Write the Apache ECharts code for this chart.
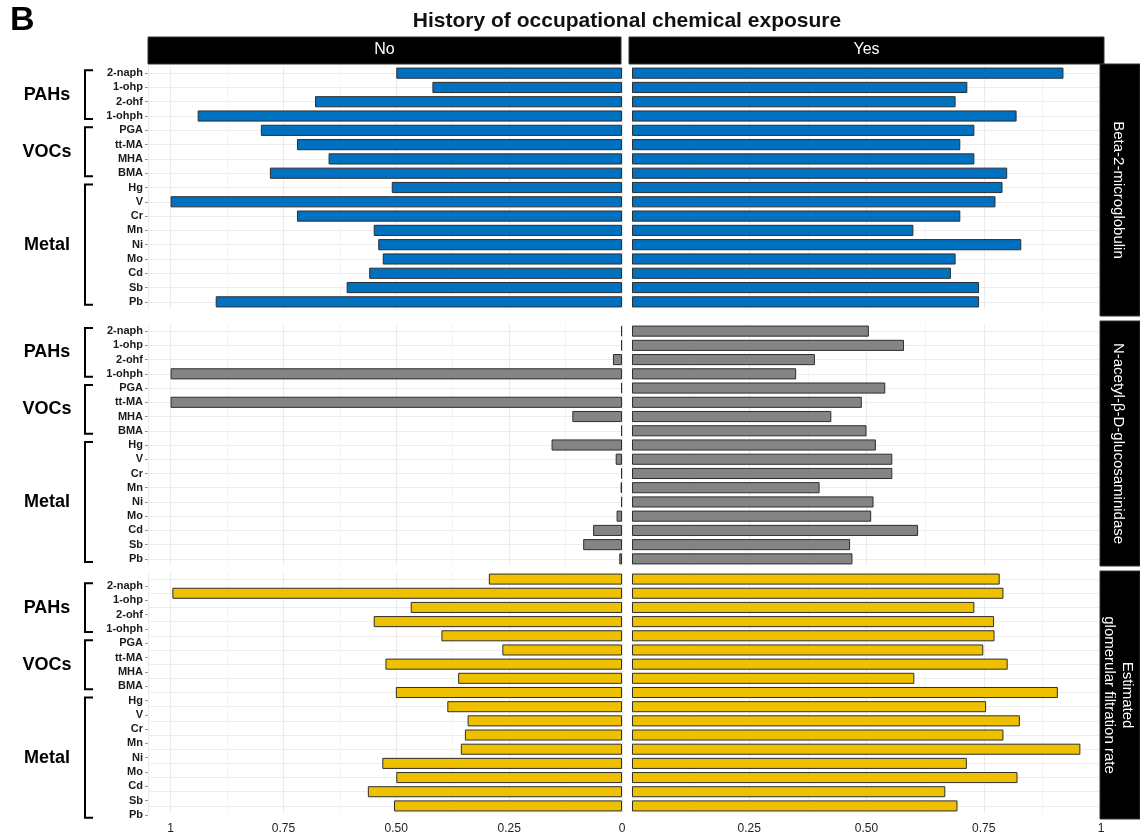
<!DOCTYPE html>
<html>
<head>
<meta charset="utf-8">
<script src="https://cdn.jsdelivr.net/npm/echarts@6/dist/echarts.min.js"></script>
<style>
  html, body { margin: 0; padding: 0; background: #fff; }
  #chart { width: 1140px; height: 839px; }
</style>
</head>
<body>
<div id="chart"></div>
<script>
    // categories (top to bottom) and how they group
    var compounds = ['2-naph', '1-ohp', '2-ohf', '1-ohph', 'PGA', 'tt-MA', 'MHA', 'BMA',
        'Hg', 'V', 'Cr', 'Mn', 'Ni', 'Mo', 'Cd', 'Sb', 'Pb'];
    var groupNames = ['PAHs', 'VOCs', 'Metal'];
    var groupSizes = [4, 4, 9];
    var exposure = ['No', 'Yes'];
    var outcomes = ['Beta-2-microglobulin', 'N-acetyl-β-D-glucosaminidase', 'Estimated\nglomerular filtration rate'];

    // Beta-2-microglobulin
    var b2mNo = [0.50, 0.42, 0.68, 0.94, 0.80, 0.72, 0.65, 0.78, 0.51, 1.00, 0.72, 0.55, 0.54, 0.53, 0.56, 0.61, 0.90];
    var b2mYes = [0.92, 0.715, 0.69, 0.82, 0.73, 0.70, 0.73, 0.80, 0.79, 0.775, 0.70, 0.60, 0.83, 0.69, 0.68, 0.74, 0.74];
    // N-acetyl-beta-D-glucosaminidase
    var nagNo = [0.002, 0.002, 0.02, 1.00, 0.002, 1.00, 0.11, 0.002, 0.156, 0.014, 0.002, 0.003, 0.002, 0.012, 0.064, 0.086, 0.006];
    var nagYes = [0.505, 0.58, 0.39, 0.35, 0.54, 0.49, 0.425, 0.50, 0.52, 0.555, 0.555, 0.40, 0.515, 0.51, 0.61, 0.465, 0.47];
    // eGFR
    var egfrNo = [0.295, 0.996, 0.468, 0.55, 0.40, 0.265, 0.524, 0.363, 0.501, 0.387, 0.342, 0.348, 0.357, 0.531, 0.50, 0.563, 0.505];
    var egfrYes = [0.784, 0.792, 0.73, 0.772, 0.773, 0.749, 0.801, 0.602, 0.908, 0.755, 0.827, 0.792, 0.956, 0.714, 0.822, 0.668, 0.694];

    var panels = [[b2mNo, b2mYes], [nagNo, nagYes], [egfrNo, egfrYes]];
    var colors = ['#0070c0', '#848484', '#efc000'];

    var font = 'Liberation Sans, Arial, sans-serif';
    var rowTop = [66, 324, 572];
    var rowHeight = [243, 242, 241];
    var labelTop = [66, 324, 579];      // labels of the last panel sit a bit lower in the original
    var labelHeight = [243, 242, 243];
    var colLeft = [148, 632];
    var colWidth = [474, 469];
    var colMax = [1.05, 1];

    function fmtTick(v) {
        return (v === 0 || v === 1) ? String(v) : v.toFixed(2);
    }

    var grids = [], xAxes = [], yAxes = [], series = [];
    for (var r = 0; r < 3; r++) {
        for (var c = 0; c < 2; c++) {
            var idx = grids.length;
            grids.push({ left: colLeft[c], top: rowTop[r], width: colWidth[c], height: rowHeight[r], outerBoundsMode: 'none' });
            xAxes.push({
                gridIndex: idx, type: 'value', min: 0, max: colMax[c], interval: 0.25,
                inverse: c === 0,
                axisLine: { show: false }, axisTick: { show: false },
                axisLabel: {
                    show: r === 2, margin: 10, color: '#222', fontSize: 12, fontFamily: font,
                    formatter: fmtTick, showMaxLabel: c === 1, showMinLabel: c === 0
                },
                splitLine: { show: true, lineStyle: { color: '#ebebeb', width: 1 } },
                minorTick: { show: false, splitNumber: 2 },
                minorSplitLine: { show: true, lineStyle: { color: '#f4f4f4', width: 1 } }
            });
            yAxes.push({
                gridIndex: idx, type: 'category', data: compounds, inverse: true,
                axisLine: { show: false }, axisTick: { show: false }, axisLabel: { show: false },
                splitLine: { show: true, interval: 0, alignWithLabel: true, lineStyle: { color: '#ededed', width: 1 } }
            });
            series.push({
                name: outcomes[r] + ' ' + exposure[c],
                type: 'bar', xAxisIndex: idx, yAxisIndex: idx,
                data: panels[r][c], barWidth: '78%',
                itemStyle: { color: colors[r], borderColor: '#2e2e2e', borderWidth: 1 },
                animation: false
            });
        }
    }
    // label-only axes for the compound names
    for (var r = 0; r < 3; r++) {
        var idx = grids.length;
        grids.push({ left: colLeft[0], top: labelTop[r], width: colWidth[0], height: labelHeight[r], outerBoundsMode: 'none' });
        xAxes.push({ gridIndex: idx, type: 'value', min: 0, max: 1, show: false });
        yAxes.push({
            gridIndex: idx, type: 'category', data: compounds, inverse: true,
            axisLine: { show: false },
            axisTick: { show: true, interval: 0, length: 3, alignWithLabel: true, lineStyle: { color: '#9a9a9a' } },
            axisLabel: { interval: 0, margin: 5, color: '#1a1a1a', fontSize: 11, fontWeight: 'bold', fontFamily: font },
            splitLine: { show: false }
        });
    }

    var chart = echarts.init(document.getElementById('chart'));
    chart.setOption({
        backgroundColor: '#fff',
        animation: false,
        title: {
            text: 'History of occupational chemical exposure',
            left: 622, top: 6, textAlign: 'center',
            textStyle: { fontSize: 21, fontWeight: 'bold', color: '#111', fontFamily: font }
        },
        grid: grids,
        xAxis: xAxes,
        yAxis: yAxes,
        series: series
    });

    // strips, panel letter, group brackets
    var g = [];
    g.push({ type: 'text', left: 10, top: 4, style: { text: 'B', font: 'bold 34px ' + font, fill: '#000' } });
    var headX = [[148, 621], [629, 1104]];
    for (var c = 0; c < 2; c++) {
        g.push({ type: 'rect', shape: { x: headX[c][0], y: 37, width: headX[c][1] - headX[c][0], height: 27 },
            style: { fill: '#000', stroke: '#333', lineWidth: 1 } });
        g.push({ type: 'text', x: (headX[c][0] + headX[c][1]) / 2, y: 50,
            style: { text: exposure[c], fill: '#fff', font: '16px ' + font, textAlign: 'center', textVerticalAlign: 'middle' } });
    }
    var stripY = [[64, 316], [321, 566], [571, 819]];
    for (var r = 0; r < 3; r++) {
        g.push({ type: 'rect', shape: { x: 1100, y: stripY[r][0], width: 40, height: stripY[r][1] - stripY[r][0] },
            style: { fill: '#000', stroke: '#333', lineWidth: 1 } });
        g.push({ type: 'text', x: 1118, y: (stripY[r][0] + stripY[r][1]) / 2, rotation: -Math.PI / 2,
            style: { text: outcomes[r], fill: '#fff', font: '15px ' + font, textAlign: 'center',
                textVerticalAlign: 'middle', lineHeight: 18 } });
    }
    for (var r = 0; r < 3; r++) {
        var start = 0;
        for (var k = 0; k < groupNames.length; k++) {
            var y0 = chart.convertToPixel({ yAxisIndex: 6 + r }, compounds[start]) - 3;
            var y1 = chart.convertToPixel({ yAxisIndex: 6 + r }, compounds[start + groupSizes[k] - 1]) + 3;
            g.push({ type: 'polyline', shape: { points: [[93, y0], [85, y0], [85, y1], [93, y1]] },
                style: { stroke: '#000', lineWidth: 2, fill: null } });
            g.push({ type: 'text', x: 47, y: (y0 + y1) / 2,
                style: { text: groupNames[k], font: 'bold 18px ' + font, fill: '#000', textAlign: 'center', textVerticalAlign: 'middle' } });
            start += groupSizes[k];
        }
    }
    chart.setOption({ graphic: g });
</script>
</body>
</html>
